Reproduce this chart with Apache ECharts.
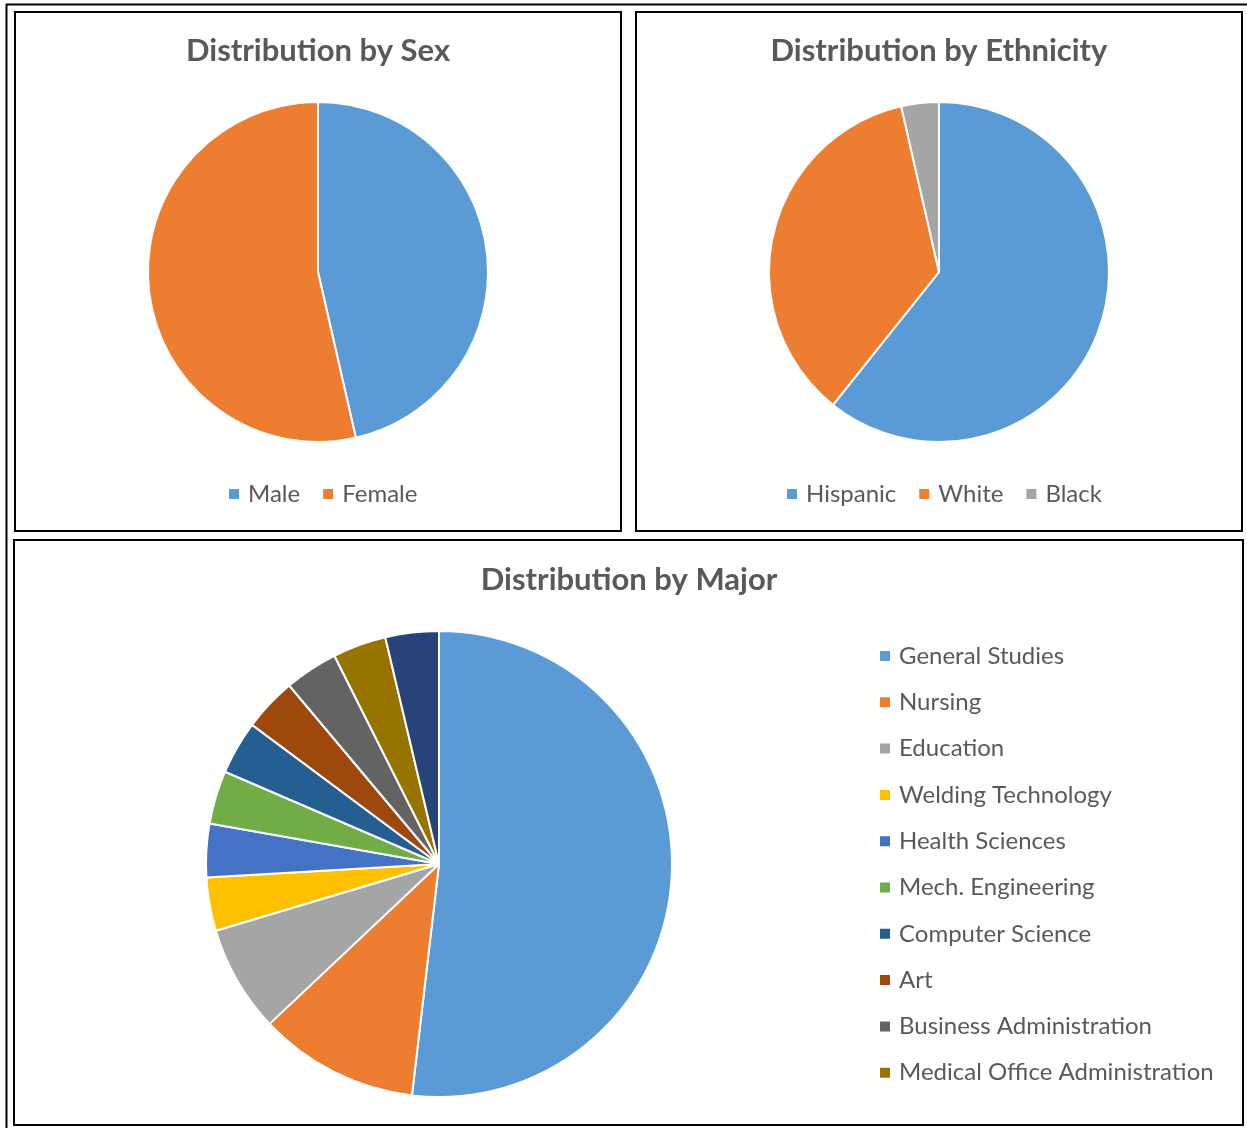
<!DOCTYPE html>
<html>
<head>
<meta charset="utf-8">
<script src="https://cdn.jsdelivr.net/npm/echarts@6/dist/echarts.min.js"></script>
<style>
html,body{margin:0;padding:0;background:#fff;}
#chart{width:1247px;height:1128px;}
</style>
</head>
<body>
<div id="chart"></div>
<script>
// ---- data ----
var sexCategories = ['Male', 'Female'];
var sexValues = [13, 15];

var ethnicityCategories = ['Hispanic', 'White', 'Black'];
var ethnicityValues = [17, 10, 1];

var majorCategories = ['General Studies', 'Nursing', 'Education', 'Welding Technology',
  'Health Sciences', 'Mech. Engineering', 'Computer Science', 'Art',
  'Business Administration', 'Medical Office Administration', 'Other'];
var majorValues = [14, 3, 2, 1, 1, 1, 1, 1, 1, 1, 1];
var majorLegendItems = majorCategories.slice(0, 10);

var titles = ['Distribution by Sex', 'Distribution by Ethnicity', 'Distribution by Major'];

// ---- styling ----
var palette = ['#5B9BD5', '#ED7D31', '#A5A5A5', '#FFC000', '#4472C4', '#70AD47',
  '#255E91', '#9E480E', '#636363', '#997300', '#264478'];
var textColor = '#595959';
var fontFamily = 'Lato, "Open Sans", sans-serif';

function toData(names, values) {
  return names.map(function (n, i) {
    return { name: n, value: values[i], itemStyle: { color: palette[i % palette.length] } };
  });
}

function pieSeries(name, names, values, center, radius) {
  return {
    type: 'pie',
    name: name,
    center: center,
    radius: radius,
    startAngle: 90,
    clockwise: true,
    avoidLabelOverlap: false,
    label: { show: false },
    labelLine: { show: false },
    emphasis: { disabled: true },
    itemStyle: { borderColor: '#ffffff', borderWidth: 2 },
    data: toData(names, values)
  };
}

var legendText = { color: textColor, fontSize: 24, fontFamily: fontFamily, padding: [0, 0, 0, 3], lineHeight: 24 };

function frame(x1, y1, x2, y2) {
  return { type: 'rect', shape: { x: x1, y: y1, width: x2 - x1, height: y2 - y1 },
    style: { fill: 'none', stroke: '#000', lineWidth: 2 }, silent: true };
}
function titleText(t, x, y) {
  return { type: 'text', x: x, y: y, silent: true,
    style: { text: t, fill: textColor, font: 'bold 31px ' + fontFamily, textAlign: 'center', textVerticalAlign: 'middle' } };
}

var legendBase = { icon: 'rect', itemWidth: 12, itemHeight: 12, textStyle: legendText, selectedMode: false };

var chart = echarts.init(document.getElementById('chart'));
chart.setOption({
  backgroundColor: '#ffffff',
  animation: false,
  tooltip: { show: false },
  legend: [
    Object.assign({ data: sexCategories, orient: 'horizontal', left: 222, top: 477, itemGap: 21 }, legendBase),
    Object.assign({ data: ethnicityCategories, orient: 'horizontal', left: 780, top: 477, itemGap: 21 }, legendBase),
    Object.assign({ data: majorLegendItems, orient: 'vertical', left: 873, top: 639, itemGap: 22.3 }, legendBase)
  ],
  graphic: [
    { type: 'line', shape: { x1: 6, y1: 4.5, x2: 1247, y2: 4.5 }, style: { stroke: '#000', lineWidth: 2 }, silent: true },
    { type: 'line', shape: { x1: 6.5, y1: 4, x2: 6.5, y2: 1128 }, style: { stroke: '#000', lineWidth: 2 }, silent: true },
    frame(15, 12, 621, 531),
    frame(636, 12, 1242, 531),
    frame(14, 540, 1243, 1125),
    titleText(titles[0], 318, 51),
    titleText(titles[1], 939, 51),
    titleText(titles[2], 629, 580)
  ],
  series: [
    pieSeries('Sex', sexCategories, sexValues, [318, 272], 170),
    pieSeries('Ethnicity', ethnicityCategories, ethnicityValues, [939, 272], 170),
    pieSeries('Major', majorCategories, majorValues, [439, 864], 233)
  ]
});
</script>
</body>
</html>
